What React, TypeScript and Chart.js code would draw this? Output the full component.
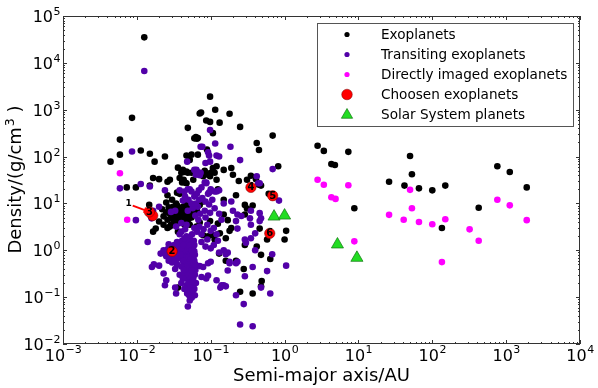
import React, { useEffect, useRef } from "react";
import { Chart, registerables } from "chart.js";

Chart.register(...registerables);

type P = [number, number];

// Semi-major axis (AU), density (g/cm^3)
const exoplanets: P[] = [
  [0.0126, 35000], [0.0086, 670], [0.098, 1900], [0.115, 1000], [0.074, 870], [0.071, 830],
  [0.087, 590], [0.098, 550], [0.132, 530], [0.18, 820], [0.25, 430], [0.049, 410],
  [0.107, 316], [0.69, 280], [0.0059, 230], [0.063, 260], [0.067, 250], [0.06, 245], [0.065, 240],
  [0.089, 141], [0.42, 195], [0.45, 138], [0.0044, 78], [0.0059, 110], [0.0113, 135],
  [0.015, 115], [0.0174, 78], [0.024, 100], [0.15, 52], [0.19, 57], [0.82, 62],
  [0.0073, 22], [0.0097, 22], [0.015, 24], [0.0166, 35], [0.02, 33], [0.028, 32], [0.026, 29],
  [0.036, 58], [0.042, 52], [0.047, 48], [0.04, 45], [0.055, 45], [0.058, 32], [0.041, 28], [0.045, 28],
  [0.083, 50], [0.098, 38], [0.113, 45], [0.12, 32],
  [0.2, 41], [0.24, 30], [0.31, 32], [0.35, 39], [0.41, 33], [0.45, 25], [0.48, 24], [0.61, 16],
  [0.047, 105], [0.055, 110], [0.052, 85], [0.067, 110], [0.12, 62], [0.107, 57],
  [0.044, 47], [0.049, 45], [0.079, 38], [0.092, 41], [0.1, 45], [0.125, 20], [0.22, 15], [0.15, 12],
  [0.29, 9.3], [0.37, 9], [0.31, 7.8], [0.15, 5.8], [0.17, 4.4], [0.071, 9.3], [0.079, 11],
  [0.071, 3.9], [0.098, 4.2], [0.125, 3.7], [0.026, 15], [0.035, 17], [0.038, 16], [0.0147, 9.3],
  [0.025, 10.5], [0.027, 8.3], [0.023, 5.3], [0.026, 4.5], [0.03, 5.4], [0.034, 4.9], [0.04, 5.1],
  [0.02, 4.1], [0.018, 2.9], [0.029, 3.5], [0.026, 3.0], [0.038, 35], [0.043, 32], [0.047, 27],
  [0.19, 3.0], [0.18, 2.6], [0.16, 1.8], [0.29, 1.3], [0.46, 2.9], [0.58, 1.7], [1.05, 2.6], [1.0, 1.7],
  [0.48, 0.8], [0.64, 0.65], [0.22, 0.6], [0.28, 0.4], [0.49, 0.22], [0.48, 0.17], [0.25, 0.13],
  [0.37, 0.12], [0.036, 0.16], [0.29, 5.8],
  [0.03, 7.5], [0.033, 6.5], [0.036, 6], [0.038, 7], [0.042, 6.4], [0.045, 5.8], [0.032, 4.2],
  [0.037, 3.8], [0.041, 4.3], [0.044, 3.6], [0.05, 4.6], [0.028, 6], [0.031, 8.5], [0.035, 9],
  [0.048, 7.5], [0.055, 6.5],
  [0.033, 5], [0.039, 5.5], [0.043, 5], [0.047, 4.2], [0.035, 4.5], [0.038, 4], [0.032, 5.8],
  [0.04, 6.8], [0.044, 7.2], [0.036, 7.8], [0.042, 8.5], [0.029, 4.8], [0.025, 6.5], [0.022, 7.5],
  [0.046, 9.5], [0.052, 8], [0.05, 5.5], [0.055, 5], [0.06, 6], [0.065, 7], [0.034, 10], [0.03, 12],
  [0.0166, 2.5], [0.023, 3.5], [0.028, 3.2], [0.036, 2.5], [0.052, 3.5], [0.064, 3.2], [0.079, 2.1],
  [0.107, 2.1], [0.133, 2.3], [0.13, 0.85], [0.092, 2.0], [0.113, 1.7], [0.16, 0.6], [0.42, 1.2],
  [2.8, 170], [3.4, 132], [7.3, 126], [50, 103], [4.3, 69], [4.8, 66], [53, 42], [760, 62],
  [1120, 47], [1900, 22], [26, 29], [42, 24], [66, 21], [100, 19], [150, 24], [8.8, 7.9],
  [135, 3.0], [425, 8.1],
];

const transiting: P[] = [
  [0.0126, 6700], [0.098, 370], [0.073, 162], [0.077, 162], [0.115, 190], [0.185, 162],
  [0.0086, 128], [0.092, 123], [0.095, 105], [0.12, 105], [0.13, 100], [0.25, 84], [0.69, 54],
  [0.0059, 21], [0.0113, 26], [0.015, 23], [0.024, 19], [0.064, 52], [0.067, 45], [0.071, 40],
  [0.083, 28], [0.087, 28], [0.038, 19], [0.052, 20], [0.055, 18], [0.069, 19], [0.095, 17],
  [0.113, 18], [0.13, 19], [0.42, 38], [0.44, 27], [0.84, 11.5], [0.048, 78], [0.098, 78], [0.085, 73],
  [0.06, 52], [0.066, 47], [0.073, 45], [0.063, 41], [0.46, 27], [0.049, 20], [0.044, 18],
  [0.087, 27], [0.1, 20], [0.12, 18], [0.092, 16], [0.19, 11], [0.15, 10], [0.2, 7], [0.23, 5.8],
  [0.26, 5.4], [0.35, 7], [0.46, 6.2], [0.48, 4.8], [0.049, 7], [0.057, 7.9], [0.067, 8.5],
  [0.083, 7], [0.098, 6.3], [0.113, 7.9], [0.22, 4.2], [0.34, 4.8], [0.35, 3.5], [0.46, 4.2],
  [0.042, 11.5], [0.02, 8.5], [0.029, 6.6], [0.033, 7], [0.0166, 7], [0.0158, 4.8], [0.034, 3.2],
  [0.04, 3.8], [0.047, 3.5], [0.0097, 4.4], [0.23, 2.9], [0.29, 1.7], [0.3, 1.45], [0.35, 1.8],
  [0.4, 1.0], [0.68, 0.82], [0.15, 1.0], [0.17, 0.89], [0.16, 0.82], [0.18, 0.53], [0.23, 0.57],
  [0.22, 0.53], [0.37, 0.44], [0.58, 0.36], [1.05, 0.47], [0.29, 0.28], [0.15, 0.18], [0.22, 0.11],
  [0.48, 0.16], [0.64, 0.12], [0.28, 0.071], [0.25, 0.026], [0.37, 0.024], [0.014, 1.5],
  [0.016, 0.44], [0.02, 0.47], [0.017, 0.5], [0.023, 0.32], [0.025, 0.23], [0.024, 0.18],
  [0.033, 0.16], [0.034, 0.12], [0.049, 0.063], [0.055, 0.097], [0.061, 0.11],
  [0.071, 0.46], [0.079, 0.44], [0.092, 0.53], [0.1, 0.57], [0.092, 0.29], [0.075, 0.27],
  [0.087, 0.25], [0.12, 0.23], [0.14, 0.18], [0.16, 0.17], [0.135, 0.16], [0.17, 0.37], [0.18, 0.57],
  [0.4, 2.3],
  [0.047, 2.0], [0.052, 1.8], [0.056, 2.2], [0.05, 1.5], [0.055, 1.4], [0.045, 1.2], [0.049, 1.0],
  [0.053, 1.1], [0.058, 1.2], [0.06, 0.95], [0.047, 0.85], [0.051, 0.8], [0.055, 0.75], [0.058, 0.7],
  [0.048, 0.65], [0.052, 0.6], [0.056, 0.55], [0.05, 0.5], [0.054, 0.45], [0.058, 0.42], [0.049, 0.4],
  [0.052, 0.35], [0.056, 0.32], [0.05, 0.3], [0.054, 0.27], [0.058, 0.25], [0.051, 0.23], [0.055, 0.2],
  [0.052, 0.18], [0.057, 0.17], [0.054, 0.15], [0.05, 0.14], [0.056, 0.13], [0.053, 0.12],
  [0.058, 0.11], [0.046, 0.35], [0.045, 0.55], [0.046, 0.25], [0.06, 0.6], [0.062, 0.38],
  [0.061, 0.3], [0.063, 0.2], [0.06, 0.15], [0.047, 0.18], [0.044, 0.75],
  [0.048, 1.6], [0.053, 1.3], [0.057, 0.9], [0.05, 0.7], [0.054, 0.65], [0.049, 0.55], [0.053, 0.5],
  [0.057, 0.47], [0.051, 0.42], [0.055, 0.37], [0.048, 0.3], [0.052, 0.28], [0.056, 0.22], [0.05, 0.2],
  [0.053, 0.16], [0.057, 0.14], [0.051, 0.11], [0.055, 0.1], [0.048, 0.12], [0.052, 0.085],
  [0.046, 0.45], [0.059, 0.52], [0.044, 0.95], [0.046, 1.4], [0.059, 1.6], [0.061, 0.8], [0.062, 0.5],
  [0.045, 0.3], [0.043, 0.5], [0.047, 1.1], [0.051, 1.25], [0.055, 1.0], [0.058, 0.85], [0.06, 1.3],
  [0.023, 1.0], [0.026, 0.9], [0.028, 1.1], [0.031, 0.85], [0.034, 0.95], [0.037, 1.0], [0.04, 0.9],
  [0.043, 1.0], [0.025, 0.75], [0.029, 0.7], [0.033, 0.7], [0.036, 0.8], [0.039, 0.7], [0.042, 0.6],
  [0.038, 1.3], [0.035, 1.5], [0.041, 1.6], [0.044, 1.8], [0.032, 1.3], [0.027, 1.35], [0.021, 0.85],
  [0.03, 0.55], [0.035, 0.5], [0.04, 0.45], [0.043, 0.38], [0.038, 0.3], [0.033, 0.4], [0.042, 0.25],
  [0.04, 0.2], [0.044, 0.15],
  [0.026, 1.05], [0.03, 0.95], [0.033, 1.05], [0.036, 1.15], [0.04, 1.1], [0.042, 1.3], [0.039, 0.8],
  [0.035, 0.65], [0.031, 0.6], [0.027, 0.6], [0.024, 0.9],
  [0.06, 3], [0.065, 2.5], [0.07, 3.2], [0.075, 2.2], [0.08, 2.8], [0.068, 4.5], [0.062, 5.5],
  [0.072, 6], [0.085, 5], [0.09, 3.5], [0.1, 2.6], [0.11, 3], [0.12, 2.2], [0.058, 8.5], [0.063, 10],
  [0.07, 12], [0.077, 13], [0.085, 11], [0.095, 9.5], [0.105, 12], [0.045, 14], [0.05, 12],
  [0.055, 10], [0.06, 14], [0.065, 16], [0.075, 22], [0.04, 2.5], [0.045, 2.8], [0.038, 2.2],
  [0.13, 6], [0.14, 4.5], [0.125, 1.6], [0.11, 1.3], [0.09, 1.7], [0.1, 1.1], [0.13, 0.9],
  [0.085, 1.2], [0.075, 1.5],
];

const imaged: P[] = [
  [0.0059, 44], [0.0074, 4.5], [2.8, 32], [3.4, 25], [7.3, 24.5], [50, 19.5], [760, 12],
  [4.3, 13.5], [4.9, 12.5], [26, 5.7], [41, 4.5], [53, 7.9], [66, 4.0], [100, 3.6], [150, 4.6],
  [320, 2.8], [425, 1.6], [1120, 9.1], [1900, 4.4], [8.8, 1.55], [135, 0.56],
];

const chosen: P[] = [[0.0164, 5.5], [0.03, 0.95], [0.0148, 6.6], [0.35, 22], [0.69, 14.6], [0.63, 2.3]];
const chosenLabels = ["1", "2", "3", "4", "5", "6"];

const solarSystem: P[] = [[0.72, 5.24], [1.0, 5.51], [5.2, 1.33], [9.54, 0.69]];

const legendLabels = [
  "Exoplanets",
  "Transiting exoplanets",
  "Directly imaged exoplanets",
  "Choosen exoplanets",
  "Solar System planets",
];

const xDecades = [-3, -2, -1, 0, 1, 2, 3, 4];
const yDecades = [-2, -1, 0, 1, 2, 3, 4, 5];

const PURPLE = "#5200a8";
const PINK = "#ff00ff";
const RED = "#ff0000";
const GREEN = "#22dd22";
const FONT = "'DejaVu Sans', sans-serif";

const toPts = (a: P[]) => a.map(([x, y]) => ({ x, y }));

function drawTriangle(ctx: CanvasRenderingContext2D, x: number, y: number, r: number) {
  ctx.beginPath();
  ctx.moveTo(x, y - r);
  ctx.lineTo(x + r * 0.866, y + r * 0.5);
  ctx.lineTo(x - r * 0.866, y + r * 0.5);
  ctx.closePath();
  ctx.fillStyle = GREEN;
  ctx.fill();
  ctx.strokeStyle = "#117711";
  ctx.lineWidth = 0.7;
  ctx.stroke();
}

const decoPlugin = {
  id: "deco",
  afterDatasetsDraw(chart: any) {
    const ctx: CanvasRenderingContext2D = chart.ctx;
    const xs = chart.scales.x;
    const ys = chart.scales.y;
    const a = chart.chartArea;
    ctx.save();

    // chosen planet labels
    const meta = chart.getDatasetMeta(3);
    ctx.font = `bold 10px ${FONT}`;
    ctx.textAlign = "center";
    ctx.textBaseline = "middle";
    ctx.fillStyle = "#000";
    meta.data.forEach((el: any, i: number) => {
      if (i === 0) {
        const lx = el.x - 24, ly = el.y - 12;
        ctx.font = `bold 9px ${FONT}`;
        ctx.fillText(chosenLabels[i], lx, ly);
        const sx = lx + 4, sy = ly + 2, ex = el.x - 4, ey = el.y - 4;
        ctx.strokeStyle = RED;
        ctx.lineWidth = 2;
        ctx.beginPath();
        ctx.moveTo(sx, sy);
        ctx.lineTo(ex, ey);
        ctx.stroke();
        const ang = Math.atan2(ey - sy, ex - sx);
        ctx.beginPath();
        ctx.moveTo(ex + 2 * Math.cos(ang), ey + 2 * Math.sin(ang));
        ctx.lineTo(ex - 5 * Math.cos(ang) + 3 * Math.sin(ang), ey - 5 * Math.sin(ang) - 3 * Math.cos(ang));
        ctx.lineTo(ex - 5 * Math.cos(ang) - 3 * Math.sin(ang), ey - 5 * Math.sin(ang) + 3 * Math.cos(ang));
        ctx.closePath();
        ctx.fillStyle = RED;
        ctx.fill();
        ctx.fillStyle = "#000";
        ctx.font = `bold 10px ${FONT}`;
      } else {
        ctx.fillText(chosenLabels[i], el.x, el.y + 0.5);
      }
    });

    // frame
    ctx.strokeStyle = "#333";
    ctx.lineWidth = 1;
    ctx.strokeRect(a.left + 0.5, a.top + 0.5, a.right - a.left - 1, a.bottom - a.top - 1);

    // ticks
    ctx.beginPath();
    xDecades.forEach((e) => {
      const px = Math.round(xs.getPixelForValue(Math.pow(10, e))) + 0.5;
      ctx.moveTo(px, a.bottom); ctx.lineTo(px, a.bottom - 4);
      ctx.moveTo(px, a.top); ctx.lineTo(px, a.top + 4);
      if (e < 4) {
        for (let m = 2; m <= 9; m++) {
          const q = Math.round(xs.getPixelForValue(m * Math.pow(10, e))) + 0.5;
          ctx.moveTo(q, a.bottom); ctx.lineTo(q, a.bottom - 2);
          ctx.moveTo(q, a.top); ctx.lineTo(q, a.top + 2);
        }
      }
    });
    yDecades.forEach((e) => {
      const py = Math.round(ys.getPixelForValue(Math.pow(10, e))) + 0.5;
      ctx.moveTo(a.left, py); ctx.lineTo(a.left + 4, py);
      ctx.moveTo(a.right, py); ctx.lineTo(a.right - 4, py);
      if (e < 5) {
        for (let m = 2; m <= 9; m++) {
          const q = Math.round(ys.getPixelForValue(m * Math.pow(10, e))) + 0.5;
          ctx.moveTo(a.left, q); ctx.lineTo(a.left + 2, q);
          ctx.moveTo(a.right, q); ctx.lineTo(a.right - 2, q);
        }
      }
    });
    ctx.stroke();

    // tick labels
    ctx.fillStyle = "#000";
    ctx.textBaseline = "alphabetic";
    ctx.textAlign = "left";
    const big = `16px ${FONT}`;
    const small = `11px ${FONT}`;
    const expStr = (e: number) => (e < 0 ? "\u2212" + Math.abs(e) : String(e));
    xDecades.forEach((e) => {
      const px = xs.getPixelForValue(Math.pow(10, e));
      ctx.font = big;
      const w1 = ctx.measureText("10").width;
      ctx.font = small;
      const w2 = ctx.measureText(expStr(e)).width;
      const x0 = px - (w1 + w2) / 2;
      ctx.font = big;
      ctx.fillText("10", x0, a.bottom + 17);
      ctx.font = small;
      ctx.fillText(expStr(e), x0 + w1 + 0.5, a.bottom + 9);
    });
    yDecades.forEach((e) => {
      const py = ys.getPixelForValue(Math.pow(10, e));
      ctx.font = small;
      const w2 = ctx.measureText(expStr(e)).width;
      ctx.font = big;
      const w1 = ctx.measureText("10").width;
      const x0 = a.left - 3 - w2 - w1;
      ctx.fillText("10", x0, py + 6);
      ctx.font = small;
      ctx.fillText(expStr(e), x0 + w1 + 0.5, py - 1);
    });

    // axis titles
    ctx.font = `18px ${FONT}`;
    ctx.textAlign = "center";
    ctx.fillText("Semi-major axis/AU", (a.left + a.right) / 2, 381);

    ctx.save();
    ctx.translate(21, (a.top + a.bottom) / 2);
    ctx.rotate(-Math.PI / 2);
    ctx.textAlign = "left";
    const t1 = "Density/(g/cm";
    const t2 = "3";
    const t3 = " )";
    ctx.font = `18px ${FONT}`;
    const w1 = ctx.measureText(t1).width;
    const w3 = ctx.measureText(t3).width;
    ctx.font = `12.5px ${FONT}`;
    const w2 = ctx.measureText(t2).width;
    const total = w1 + w2 + w3;
    let cx = -total / 2;
    ctx.font = `18px ${FONT}`;
    ctx.fillText(t1, cx, 0);
    cx += w1;
    ctx.font = `12.5px ${FONT}`;
    ctx.fillText(t2, cx + 1, -7);
    cx += w2 + 1;
    ctx.font = `18px ${FONT}`;
    ctx.fillText(t3, cx, 0);
    ctx.restore();

    // legend
    const lx = 317.5, ly = 23.5, lw = 256, lh = 103;
    ctx.fillStyle = "#fff";
    ctx.fillRect(lx, ly, lw, lh);
    ctx.strokeStyle = "#555";
    ctx.lineWidth = 1;
    ctx.strokeRect(lx, ly, lw, lh);
    const rows = [34.5, 54.5, 74.5, 94.5, 114];
    const mx = 347;
    ctx.font = `13.6px ${FONT}`;
    ctx.textAlign = "left";
    ctx.textBaseline = "middle";
    legendLabels.forEach((lab, i) => {
      const y = rows[i];
      if (i < 3) {
        ctx.beginPath();
        ctx.arc(mx, y, 2.6, 0, Math.PI * 2);
        ctx.fillStyle = i === 0 ? "#000" : i === 1 ? PURPLE : PINK;
        ctx.fill();
      } else if (i === 3) {
        ctx.beginPath();
        ctx.arc(mx, y, 5.3, 0, Math.PI * 2);
        ctx.fillStyle = RED;
        ctx.fill();
        ctx.strokeStyle = "#700";
        ctx.lineWidth = 0.5;
        ctx.stroke();
      } else {
        drawTriangle(ctx, mx, y + 1, 6.5);
      }
      ctx.fillStyle = "#000";
      ctx.fillText(lab, 381, y + 1);
    });

    ctx.restore();
  },
};

export default function App() {
  const ref = useRef<HTMLCanvasElement>(null);
  useEffect(() => {
    document.body.style.margin = "0";
    const canvas = ref.current;
    if (!canvas) return;
    const chart = new Chart(canvas, {
      type: "scatter",
      data: {
        datasets: [
          {
            label: legendLabels[0], data: toPts(exoplanets), order: 5,
            backgroundColor: "#000", borderWidth: 0, pointRadius: 3.3,
          },
          {
            label: legendLabels[1], data: toPts(transiting), order: 4,
            backgroundColor: PURPLE, borderWidth: 0, pointRadius: 3.3,
          },
          {
            label: legendLabels[2], data: toPts(imaged), order: 3,
            backgroundColor: PINK, borderWidth: 0, pointRadius: 3.3,
          },
          {
            label: legendLabels[3], data: toPts(chosen), order: 2,
            backgroundColor: RED, borderColor: "#700", borderWidth: 0.5, pointRadius: 5.2,
          },
          {
            label: legendLabels[4], data: toPts(solarSystem), order: 1,
            pointStyle: "triangle", backgroundColor: GREEN, borderColor: "#117711", borderWidth: 0.7,
            pointRadius: 7,
          },
        ],
      },
      options: {
        responsive: false,
        animation: false,
        devicePixelRatio: 1,
        layout: { padding: { left: 63, right: 18, top: 16, bottom: 44 } },
        scales: {
          x: { type: "logarithmic", min: 1e-3, max: 1e4, display: false },
          y: { type: "logarithmic", min: 1e-2, max: 1e5, display: false },
        },
        plugins: { legend: { display: false }, tooltip: { enabled: false } },
        events: [],
      },
      plugins: [decoPlugin],
    });
    return () => chart.destroy();
  }, []);
  return (
    <div style={{ width: 598, height: 388, background: "#fff" }}>
      <canvas ref={ref} width={598} height={388} style={{ display: "block" }} />
    </div>
  );
}
